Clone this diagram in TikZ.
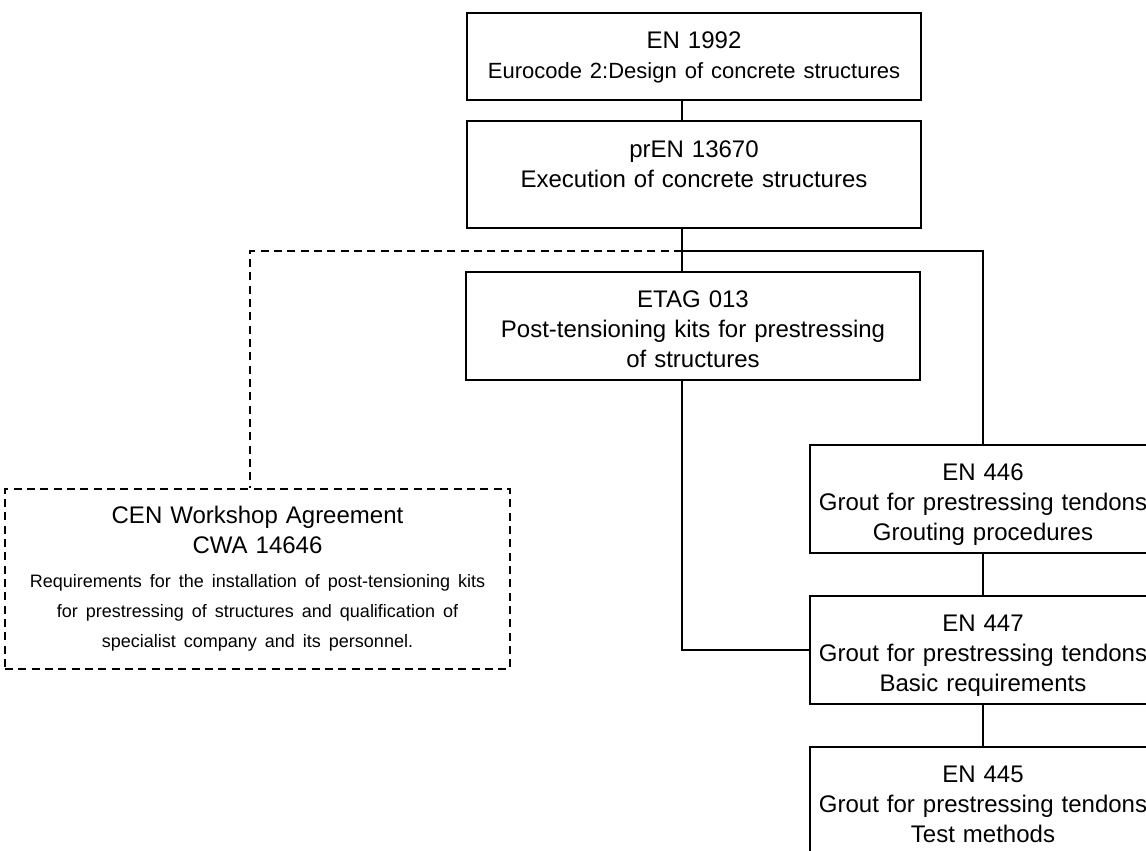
\documentclass[tikz,border=0pt]{standalone}
\usepackage{fontspec}
\setmainfont{Liberation Sans}

\begin{document}
\begin{tikzpicture}[x=0.75pt,y=-0.75pt,line width=1.2pt]
		    \tikzstyle{doc}=[rectangle, draw, inner sep=0pt, align=center, text height=0pt, font=\fontsize{18}{22.5}\selectfont]
		    \tikzstyle{upper}=[doc, text width=340.5pt]
		    \tikzstyle{grout}=[doc, text width=259.5pt, minimum height=81pt, text depth=28.5pt]
		    \tikzstyle{dashline}=[dash pattern=on 6pt off 4pt]
		
		    \clip (0,0) rectangle (1146,850);
		
		    \node[upper, minimum height=65.25pt, text depth=12.75pt] (en1992) at (694,56.5)
		        {EN 1992\\{\fontsize{16.5}{22.5}\selectfont Eurocode 2:Design of concrete structures}};
		    \node[upper, minimum height=80.25pt, text depth=26.25pt] (pren) at (694,174.5)
		        {prEN 13670\\Execution of concrete structures};
		    \node[upper, minimum height=81pt, text depth=28.5pt] (etag) at (693,326)
		        {ETAG 013\\Post-tensioning kits for prestressing\\of structures};
		    \node[doc, dashline, text width=378.75pt, minimum height=135pt, text depth=84pt] (cwa) at (257.5,579)
		        {CEN Workshop Agreement\\CWA 14646\\[3pt]{\fontsize{13.5}{22.5}\selectfont Requirements for the installation of post-tensioning kits\\
		        for prestressing of structures and qualification of\\specialist company and its personnel.}};
		    \node[grout] (en446) at (983,499) {EN 446\\Grout for prestressing tendons\\Grouting procedures};
		    \node[grout] (en447) at (983,650) {EN 447\\Grout for prestressing tendons\\Basic requirements};
		    \node[grout] (en445) at (983,801) {EN 445\\Grout for prestressing tendons\\Test methods};
		
		    \coordinate (j) at (682,251);
		    \coordinate (d) at (250,251);
		
		    \draw (en1992.south -| j) -- (pren.north -| j);
		    \draw (pren.south -| j) -- (etag.north -| j);
		    \draw (j) -| (en446.north);
		    \draw[dashline] (j) -- (d) -- (d |- cwa.north);
		    \draw (etag.south -| j) |- (en447.west);
		    \draw (en446.south) -- (en447.north);
		    \draw (en447.south) -- (en445.north);
		    \end{tikzpicture}
\end{document}
